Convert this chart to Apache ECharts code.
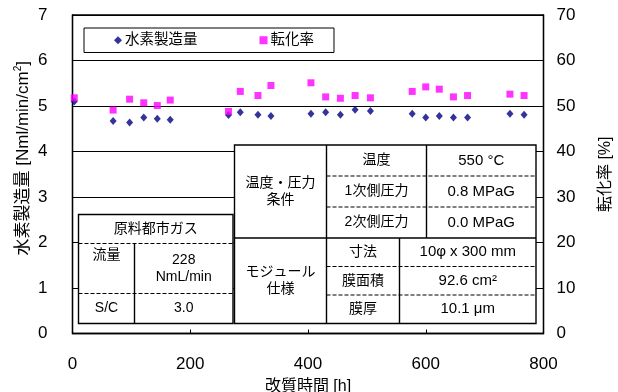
<!DOCTYPE html>
<html>
<head>
<meta charset="utf-8">
<script src="https://cdn.jsdelivr.net/npm/echarts@6/dist/echarts.min.js"></script>
<style>
html,body{margin:0;padding:0;background:#fff;}
#chart{width:618px;height:392px;}
</style>
</head>
<body>
<div id="chart"></div>
<script>
// Reforming time [h] for each measurement
const hours = [3, 69, 97, 121, 144, 166, 265, 285, 315, 337, 405, 430, 455, 480, 506, 577, 600, 623, 647, 671, 743, 767];
// Hydrogen production [Nml/min/cm2]
const h2Rate = [5.10, 4.67, 4.64, 4.75, 4.72, 4.70, 4.80, 4.86, 4.81, 4.78, 4.83, 4.86, 4.81, 4.92, 4.89, 4.83, 4.75, 4.78, 4.75, 4.75, 4.83, 4.81];
// Conversion [%]
const conversion = [51.8, 49.1, 51.5, 50.7, 50.1, 51.3, 48.8, 53.2, 52.3, 54.5, 55.1, 52.0, 51.7, 52.3, 51.8, 53.2, 54.2, 53.7, 52.0, 52.3, 52.6, 52.3];

const seriesNames = ['水素製造量', '転化率'];
const xTicks = [0, 200, 400, 600, 800];

// Condition tables
const feedTable = {
  title: '原料都市ガス',
  rows: [['流量', '228\nNmL/min'], ['S/C', '3.0']]
};
const condGroup = ['温度・圧力\n条件', 'モジュール\n仕様'];
const condRows = [
  ['温度', '550 °C'],
  ['1次側圧力', '0.8 MPaG'],
  ['2次側圧力', '0.0 MPaG'],
  ['寸法', '10φ x 300 mm'],
  ['膜面積', '92.6 cm²'],
  ['膜厚', '10.1 μm']
];

const FONT = '"Liberation Sans", "Noto Sans CJK JP", sans-serif';
const chart = echarts.init(document.getElementById('chart'));

// ---- table drawing helpers ----
const g = [];
function rect(x, y, w, h) {
  g.push({type: 'rect', shape: {x, y, width: w, height: h}, z: 10,
    style: {fill: '#fff', stroke: '#000', lineWidth: 1.4}});
}
function line(x1, y1, x2, y2, dashed) {
  g.push({type: 'line', shape: {x1, y1, x2, y2}, z: 11,
    style: {stroke: '#000', lineWidth: dashed ? 1.2 : 1.4, lineDash: dashed ? [4, 2] : null}});
}
function text(x, y, s, size) {
  g.push({type: 'text', x, y, z: 12,
    style: {text: s, fill: '#000', font: (size || 14) + 'px ' + FONT,
      align: 'center', verticalAlign: 'middle', lineHeight: 17}});
}

// feed gas table
(function () {
  const L = 78.5, R = 233, T = 214.5, B = 323.5, C = 134.5;
  const r1 = 243.5, r2 = 293.5;
  rect(L, T, R - L, B - T);
  line(L, r1, R, r1, true);
  line(L, r2, R, r2, true);
  line(C, r1, C, B, false);
  text((L + R) / 2, (T + r1) / 2, feedTable.title);
  text((L + C) / 2, 255, feedTable.rows[0][0]);
  text((C + R) / 2, 269, feedTable.rows[0][1]);
  text((L + C) / 2, (r2 + B) / 2, feedTable.rows[1][0]);
  text((C + R) / 2, (r2 + B) / 2, feedTable.rows[1][1]);
})();

// operating / module condition table
(function () {
  const L = 234.5, R = 536, T = 145, B = 323.5;
  const c1 = 326.5, c2a = 426.5, c2b = 399.5;
  const rows = [145, 176, 207, 238, 266.5, 295, 323.5];
  rect(L, T, R - L, B - T);
  line(c1, T, c1, B, false);
  line(c2a, T, c2a, rows[3], false);
  line(c2b, rows[3], c2b, B, false);
  line(L, rows[3], R, rows[3], false);
  [1, 2, 4, 5].forEach(i => line(c1, rows[i], R, rows[i], true));
  text((L + c1) / 2, (rows[0] + rows[3]) / 2, condGroup[0]);
  text((L + c1) / 2, (rows[3] + rows[6]) / 2, condGroup[1]);
  condRows.forEach((r, i) => {
    const yc = (rows[i] + rows[i + 1]) / 2;
    const split = i < 3 ? c2a : c2b;
    text((c1 + split) / 2, yc, r[0]);
    text((split + R) / 2, yc, r[1], 15);
  });
})();

const option = {
  animation: false,
  backgroundColor: '#fff',
  textStyle: {fontFamily: FONT},
  grid: {left: 72.5, right: 74.5, top: 15, bottom: 58.5, show: true,
    outerBoundsMode: 'none', containLabel: false,
    borderColor: '#000', borderWidth: 1.3, backgroundColor: 'transparent'},
  legend: {
    left: 84, top: 28, orient: 'horizontal',
    padding: [5, 20, 5, 30], itemGap: 62, itemWidth: 8, itemHeight: 8,
    backgroundColor: '#fff', borderColor: '#000', borderWidth: 1, borderRadius: 0,
    textStyle: {fontSize: 14.5, color: '#000', fontFamily: FONT, padding: [0, 0, 0, -2]},
    data: [{name: seriesNames[0], icon: 'diamond'}, {name: seriesNames[1], icon: 'rect'}]
  },
  xAxis: {
    type: 'value', min: xTicks[0], max: xTicks[xTicks.length - 1], interval: 200,
    name: '改質時間 [h]', nameLocation: 'middle', nameGap: 45, nameMoveOverlap: false,
    nameTextStyle: {fontSize: 16, color: '#000'},
    axisLine: {show: true, lineStyle: {color: '#000', width: 1.3}},
    axisTick: {show: true, inside: true, length: 4, lineStyle: {color: '#000'}},
    axisLabel: {fontSize: 17, color: '#000', margin: 22},
    splitLine: {show: false}
  },
  yAxis: [{
    type: 'value', min: 0, max: 7, interval: 1,
    name: '水素製造量 [Nml/min/cm{sup|2}]', nameLocation: 'middle', nameGap: 40,
    nameMoveOverlap: false,
    nameTextStyle: {fontSize: 17, color: '#000', padding: [0, 0, 0, 32],
      rich: {sup: {fontSize: 10, padding: [0, 0, 9, 0]}}},
    axisLine: {show: true, lineStyle: {color: '#000', width: 1.3}},
    axisTick: {show: false},
    axisLabel: {fontSize: 17, color: '#000', margin: 25},
    splitLine: {show: true, lineStyle: {color: '#000', width: 1}}
  }, {
    type: 'value', min: 0, max: 70, interval: 10, position: 'right',
    name: '転化率 [%]', nameLocation: 'middle', nameGap: 54, nameRotate: 90,
    nameMoveOverlap: false,
    nameTextStyle: {fontSize: 16, color: '#000'},
    axisLine: {show: true, lineStyle: {color: '#000', width: 1.3}},
    axisTick: {show: false},
    axisLabel: {fontSize: 17, color: '#000', margin: 13},
    splitLine: {show: false}
  }],
  series: [{
    name: seriesNames[0], type: 'scatter', yAxisIndex: 0,
    symbol: 'diamond', symbolSize: [7, 8],
    itemStyle: {color: '#000080'},
    data: hours.map((h, i) => [h, h2Rate[i]])
  }, {
    name: seriesNames[1], type: 'scatter', yAxisIndex: 1,
    symbol: 'rect', symbolSize: 7,
    itemStyle: {color: '#ff00ff'},
    data: hours.map((h, i) => [h, conversion[i]])
  }],
  graphic: g
};
chart.setOption(option);
</script>
</body>
</html>
